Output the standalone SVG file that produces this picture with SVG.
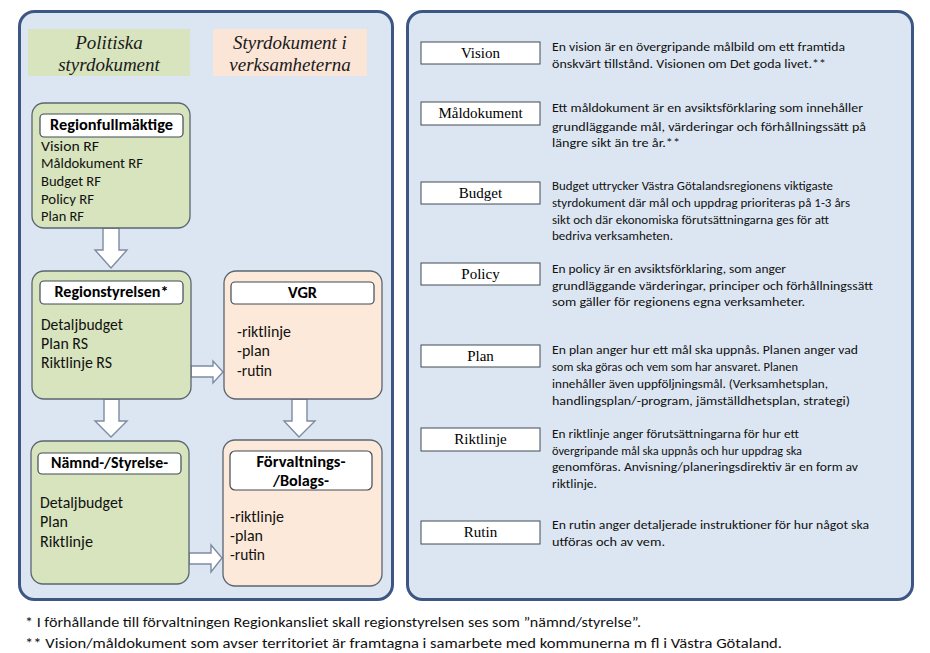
<svg xmlns="http://www.w3.org/2000/svg" width="930" height="653" viewBox="0 0 930 653">
<style>
.panel{fill:#dce6f2;stroke:#3d5684;stroke-width:3}
.green{fill:#d7e4bd;stroke:#5b6670;stroke-width:1.3}
.peach{fill:#fde9d9;stroke:#5b6670;stroke-width:1.3}
.tbox{fill:#ffffff;stroke:#404a55;stroke-width:1.2}
.term{fill:#ffffff;stroke:#404a55;stroke-width:1}
.hdr{font-family:"Liberation Serif",serif;font-style:italic;font-size:19px;fill:#1a1a1a;text-anchor:middle}
.ttl{font-family:"Carlito","Liberation Sans",sans-serif;font-weight:bold;font-size:15px;fill:#000;text-anchor:middle}
.it{font-family:"Carlito","Liberation Sans",sans-serif;font-size:14px;fill:#111}
.it2{font-family:"Carlito","Liberation Sans",sans-serif;font-size:15.5px;fill:#111}
.tl{font-family:"Liberation Serif",serif;font-size:15px;fill:#000;text-anchor:middle}
.d{font-family:"Carlito","Liberation Sans",sans-serif;font-size:12.5px;fill:#111}
.ds{font-family:"Carlito","Liberation Sans",sans-serif;font-size:11.5px;fill:#111}
.fn{font-family:"Carlito","Liberation Sans",sans-serif;font-size:13.5px;fill:#111}
.arr{fill:#ffffff;stroke:#7d8ba0;stroke-width:1.4;stroke-linejoin:miter}
</style>

<rect class="panel" x="19.5" y="11.5" width="373" height="588" rx="15"/>
<rect class="panel" x="407.5" y="11.5" width="505" height="588" rx="15"/>

<g id="header-politiska">
<rect x="28" y="29" width="162" height="47" fill="#d7e4bd"/>
<text class="hdr" x="109" y="49">Politiska</text>
<text class="hdr" x="109" y="71">styrdokument</text>
</g>
<g id="header-verksamheterna">
<rect x="213" y="29" width="154" height="47" fill="#fbe5d6"/>
<text class="hdr" x="290" y="49">Styrdokument i</text>
<text class="hdr" x="290" y="71">verksamheterna</text>
</g>

<g id="connectors">
<path class="arr" d="M103,228 L119,228 L119,250 L127,250 L111,268 L95,250 L103,250 Z"/>
<path class="arr" d="M104,399 L119,399 L119,421 L127,421 L111,437 L95,421 L104,421 Z"/>
<path class="arr" d="M292,399 L307,399 L307,421 L315,421 L299,437 L284,421 L292,421 Z"/>
<path class="arr" d="M191,366 L213,366 L213,361 L223,372 L213,383 L213,377 L191,377 Z"/>
<path class="arr" d="M189,553 L211,553 L211,545 L222,558 L211,572 L211,564 L189,564 Z"/>
</g>

<g id="node-regionfullmaktige">
<rect class="green" x="32" y="103" width="158" height="125" rx="12"/>
<rect class="tbox" x="40" y="114" width="143" height="23" rx="4"/>
<text class="ttl" x="111.5" y="130" textLength="123" lengthAdjust="spacingAndGlyphs">Regionfullmäktige</text>
<text class="it" x="41" y="151" textLength="58" lengthAdjust="spacingAndGlyphs">Vision RF</text>
<text class="it" x="41" y="168" textLength="102" lengthAdjust="spacingAndGlyphs">Måldokument RF</text>
<text class="it" x="41" y="186" textLength="60" lengthAdjust="spacingAndGlyphs">Budget RF</text>
<text class="it" x="41" y="204" textLength="53" lengthAdjust="spacingAndGlyphs">Policy RF</text>
<text class="it" x="41" y="221" textLength="43" lengthAdjust="spacingAndGlyphs">Plan RF</text>
</g>

<g id="node-regionstyrelsen">
<rect class="green" x="32" y="271" width="159" height="128" rx="12"/>
<rect class="tbox" x="40" y="281" width="143" height="23" rx="4"/>
<text class="ttl" x="111.5" y="297" textLength="114" lengthAdjust="spacingAndGlyphs">Regionstyrelsen*</text>
<text class="it2" x="41" y="330" textLength="82" lengthAdjust="spacingAndGlyphs">Detaljbudget</text>
<text class="it2" x="41" y="349" textLength="47" lengthAdjust="spacingAndGlyphs">Plan RS</text>
<text class="it2" x="41" y="368" textLength="71" lengthAdjust="spacingAndGlyphs">Riktlinje RS</text>
</g>

<g id="node-vgr">
<rect class="peach" x="224" y="271" width="158" height="128" rx="12"/>
<rect class="tbox" x="231" y="282" width="143" height="22" rx="4"/>
<text class="ttl" x="302.5" y="298" textLength="29" lengthAdjust="spacingAndGlyphs">VGR</text>
<text class="it2" x="237" y="337" textLength="54" lengthAdjust="spacingAndGlyphs">-riktlinje</text>
<text class="it2" x="237" y="356" textLength="33" lengthAdjust="spacingAndGlyphs">-plan</text>
<text class="it2" x="237" y="376" textLength="35" lengthAdjust="spacingAndGlyphs">-rutin</text>
</g>

<g id="node-namnd">
<rect class="green" x="31" y="441" width="158" height="143" rx="12"/>
<rect class="tbox" x="38" y="453" width="143" height="21" rx="4"/>
<text class="ttl" x="109.5" y="468" textLength="117" lengthAdjust="spacingAndGlyphs">Nämnd-/Styrelse-</text>
<text class="it2" x="40" y="508" textLength="83" lengthAdjust="spacingAndGlyphs">Detaljbudget</text>
<text class="it2" x="40" y="527" textLength="28" lengthAdjust="spacingAndGlyphs">Plan</text>
<text class="it2" x="40" y="547" textLength="53" lengthAdjust="spacingAndGlyphs">Riktlinje</text>
</g>

<g id="node-forvaltnings">
<rect class="peach" x="223" y="440" width="159" height="146" rx="12"/>
<rect class="tbox" x="230" y="451" width="142" height="39" rx="5"/>
<text class="ttl" x="301" y="467" textLength="89" lengthAdjust="spacingAndGlyphs">Förvaltnings-</text>
<text class="ttl" x="301" y="486" textLength="56" lengthAdjust="spacingAndGlyphs">/Bolags-</text>
<text class="it2" x="230" y="522" textLength="54" lengthAdjust="spacingAndGlyphs">-riktlinje</text>
<text class="it2" x="230" y="541" textLength="33" lengthAdjust="spacingAndGlyphs">-plan</text>
<text class="it2" x="230" y="560" textLength="35" lengthAdjust="spacingAndGlyphs">-rutin</text>
</g>

<g id="term-vision">
<rect class="term" x="421" y="42" width="119" height="22"/>
<text class="tl" x="480.5" y="58">Vision</text>
<text class="d" x="552" y="51" textLength="293" lengthAdjust="spacingAndGlyphs">En vision är en övergripande målbild om ett framtida</text>
<text class="d" x="552" y="68" textLength="274" lengthAdjust="spacingAndGlyphs">önskvärt tillstånd. Visionen om Det goda livet.**</text>
</g>

<g id="term-maldokument">
<rect class="term" x="421" y="102" width="119" height="23"/>
<text class="tl" x="480.5" y="118">Måldokument</text>
<text class="d" x="552" y="112" textLength="311" lengthAdjust="spacingAndGlyphs">Ett måldokument är en avsiktsförklaring som innehåller</text>
<text class="d" x="552" y="131" textLength="314" lengthAdjust="spacingAndGlyphs">grundläggande mål, värderingar och förhållningssätt på</text>
<text class="d" x="552" y="147" textLength="128" lengthAdjust="spacingAndGlyphs">längre sikt än tre år.**</text>
</g>

<g id="term-budget">
<rect class="term" x="421" y="182" width="119" height="22"/>
<text class="tl" x="480.5" y="198">Budget</text>
<text class="ds" x="552" y="190" textLength="281" lengthAdjust="spacingAndGlyphs">Budget uttrycker Västra Götalandsregionens viktigaste</text>
<text class="ds" x="552" y="207" textLength="298" lengthAdjust="spacingAndGlyphs">styrdokument där mål och uppdrag prioriteras på 1-3 års</text>
<text class="ds" x="552" y="224" textLength="277" lengthAdjust="spacingAndGlyphs">sikt och där ekonomiska förutsättningarna ges för att</text>
<text class="ds" x="552" y="240" textLength="121" lengthAdjust="spacingAndGlyphs">bedriva verksamheten.</text>
</g>

<g id="term-policy">
<rect class="term" x="421" y="263" width="119" height="22"/>
<text class="tl" x="480.5" y="279">Policy</text>
<text class="d" x="552" y="273" textLength="234" lengthAdjust="spacingAndGlyphs">En policy är en avsiktsförklaring, som anger</text>
<text class="d" x="552" y="290" textLength="321" lengthAdjust="spacingAndGlyphs">grundläggande värderingar, principer och förhållningssätt</text>
<text class="d" x="552" y="306" textLength="253" lengthAdjust="spacingAndGlyphs">som gäller för regionens egna verksamheter.</text>
</g>

<g id="term-plan">
<rect class="term" x="421" y="345" width="119" height="22"/>
<text class="tl" x="480.5" y="361">Plan</text>
<text class="d" x="552" y="354" textLength="306" lengthAdjust="spacingAndGlyphs">En plan anger hur ett mål ska uppnås. Planen anger vad</text>
<text class="d" x="552" y="371" textLength="246" lengthAdjust="spacingAndGlyphs">som ska göras och vem som har ansvaret. Planen</text>
<text class="d" x="552" y="388" textLength="276" lengthAdjust="spacingAndGlyphs">innehåller även uppföljningsmål. (Verksamhetsplan,</text>
<text class="d" x="552" y="405" textLength="298" lengthAdjust="spacingAndGlyphs">handlingsplan/-program, jämställdhetsplan, strategi)</text>
</g>

<g id="term-riktlinje">
<rect class="term" x="421" y="428" width="119" height="23"/>
<text class="tl" x="480.5" y="444">Riktlinje</text>
<text class="d" x="552" y="438" textLength="247" lengthAdjust="spacingAndGlyphs">En riktlinje anger förutsättningarna för hur ett</text>
<text class="d" x="552" y="455" textLength="250" lengthAdjust="spacingAndGlyphs">övergripande mål ska uppnås och hur uppdrag ska</text>
<text class="d" x="552" y="471" textLength="306" lengthAdjust="spacingAndGlyphs">genomföras. Anvisning/planeringsdirektiv är en form av</text>
<text class="d" x="552" y="488" textLength="45" lengthAdjust="spacingAndGlyphs">riktlinje.</text>
</g>

<g id="term-rutin">
<rect class="term" x="421" y="521" width="119" height="23"/>
<text class="tl" x="480.5" y="537">Rutin</text>
<text class="d" x="552" y="529" textLength="317" lengthAdjust="spacingAndGlyphs">En rutin anger detaljerade instruktioner för hur något ska</text>
<text class="d" x="552" y="546" textLength="113" lengthAdjust="spacingAndGlyphs">utföras och av vem.</text>
</g>

<g id="footnotes">
<text class="fn" x="25" y="627" textLength="616" lengthAdjust="spacingAndGlyphs">* I förhållande till förvaltningen Regionkansliet skall regionstyrelsen ses som ”nämnd/styrelse”.</text>
<text class="fn" x="25" y="648" textLength="757" lengthAdjust="spacingAndGlyphs">** Vision/måldokument som avser territoriet är framtagna i samarbete med kommunerna m fl i Västra Götaland.</text>
</g>
</svg>
